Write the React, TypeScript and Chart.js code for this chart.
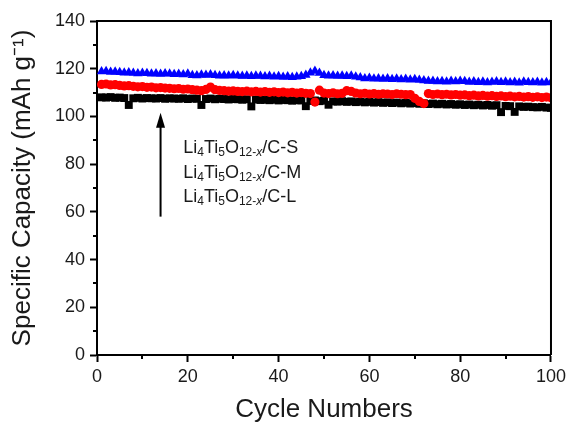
import React, { useEffect, useRef } from "react";
import { Chart, registerables } from "chart.js";
Chart.register(...registerables);

const FONT = "'Liberation Sans', Arial, Helvetica, sans-serif";

const cycles: number[] = Array.from({ length: 100 }, (_, i) => i + 1);

const capacityS = [
  118.8, 118.9, 118.6, 118.7, 118.5, 118.3, 118.4, 118.2, 118.0, 118.2,
  118.1, 117.9, 118.0, 117.8, 118.0, 117.9, 117.7, 117.8, 117.6, 117.9,
  117.3, 117.2, 117.5, 117.4, 117.6, 117.3, 117.1, 117.2, 117.0, 117.3,
  117.0, 116.9, 117.1, 116.8, 117.0, 116.9, 116.7, 116.9, 116.6, 116.8,
  116.5, 116.7, 116.4, 116.6, 116.8, 117.4, 118.3, 119.0, 118.2, 117.3,
  117.1, 117.2, 116.9, 117.0, 116.8, 117.0, 116.6, 116.3, 115.9, 116.1,
  115.8, 115.9, 115.7, 115.9, 115.6, 115.8, 115.5, 115.7, 115.4, 115.6,
  115.3, 115.1, 114.8, 114.9, 114.6, 114.7, 114.5, 114.8, 114.6, 114.9,
  114.7, 114.4, 114.6, 114.3, 114.5, 114.2, 114.4, 114.6, 114.3, 114.5,
  114.2, 114.4, 114.1, 114.5, 114.3, 114.2, 114.4, 114.1, 114.3, 114.2,
];

const capacityM = [
  113.4, 113.6, 113.2, 113.3, 113.0, 112.8, 112.9, 112.6, 112.4, 112.5,
  112.2, 112.3, 112.0, 112.1, 111.9, 111.8, 111.6, 111.7, 111.4, 111.5,
  111.2, 111.0, 110.8, 111.3, 112.3, 111.2, 110.9, 110.8, 110.6, 110.7,
  110.5, 110.4, 110.6, 110.3, 110.5, 110.2, 110.4, 110.1, 110.3, 110.0,
  110.2, 109.9, 110.1, 109.8, 110.0, 109.7, 109.6, 106.0, 111.0, 109.8,
  109.6, 109.9, 109.5, 109.7, 110.8, 110.5, 109.8, 109.5, 109.7, 109.4,
  109.6, 109.3, 109.5, 109.4, 109.2, 109.5, 109.3, 109.1, 109.2, 107.6,
  106.3, 105.4, 109.6, 109.2, 109.4, 109.1, 109.3, 109.0, 109.2, 108.9,
  109.0, 108.7, 108.9, 108.6, 108.8, 108.5, 108.7, 108.4, 108.6, 108.3,
  108.5, 108.2, 108.4, 108.1, 108.3, 108.0, 108.2, 107.9, 108.1, 107.8,
];

const capacityL = [
  108.0, 107.9, 108.1, 107.8, 107.9, 107.7, 104.8, 107.6, 107.8, 107.5,
  107.7, 107.6, 107.5, 107.7, 107.4, 107.6, 107.5, 107.4, 107.6, 107.3,
  107.5, 107.4, 104.8, 107.3, 107.5, 107.2, 107.4, 107.3, 107.1, 107.3,
  107.2, 107.0, 107.2, 104.2, 107.1, 106.9, 107.0, 106.8, 107.0, 106.7,
  106.9, 106.8, 106.6, 106.8, 106.7, 104.3, 106.5, 106.7, 106.4, 106.6,
  104.9, 106.3, 106.2, 106.4, 106.1, 106.3, 106.0, 106.2, 105.9, 106.1,
  105.8, 106.0, 105.7, 105.9, 105.6, 105.8, 105.5, 105.7, 105.4, 105.6,
  105.3, 105.5, 105.2, 105.4, 105.1, 105.3, 105.0, 105.2, 104.9, 105.1,
  104.8, 105.0, 104.7, 104.9, 104.6, 104.8, 104.5, 104.7, 101.8, 104.4,
  104.3, 101.9, 104.2, 104.0, 104.1, 103.9, 103.8, 104.0, 103.7, 103.6,
];

const xMajorTicks = [0, 20, 40, 60, 80, 100];
const xMinorTicks = [10, 30, 50, 70, 90];
const yMajorTicks = [0, 20, 40, 60, 80, 100, 120, 140];
const yMinorTicks = [10, 30, 50, 70, 90, 110, 130];

const sampleSuffixes = ["C-S", "C-M", "C-L"];
const labelYs = [84.6, 74.4, 64.0];
const labelX = 19;
const arrowX = 14;
const arrowFrom = 58;
const arrowTo = 101.5;

type Part = { t: string; sub?: boolean; it?: boolean };

function drawRich(ctx: CanvasRenderingContext2D, x: number, y: number, parts: Part[]) {
  let cx = x;
  for (const p of parts) {
    const size = p.sub ? 12 : 18;
    ctx.font = `${p.it ? "italic " : ""}${size}px ${FONT}`;
    ctx.fillText(p.t, cx, p.sub ? y + 3 : y);
    cx += ctx.measureText(p.t).width;
  }
}

const decorPlugin = {
  id: "decor",
  afterDatasetsDraw(chart: any) {
    const { ctx, chartArea: a, scales } = chart;
    const xs = scales.x;
    const ys = scales.y;
    ctx.save();
    ctx.strokeStyle = "#000";
    ctx.lineWidth = 2;
    ctx.beginPath();
    ctx.moveTo(a.left, a.top);
    ctx.lineTo(a.right, a.top);
    ctx.lineTo(a.right, a.bottom);
    ctx.stroke();

    ctx.beginPath();
    for (const v of xMinorTicks) {
      const px = Math.round(xs.getPixelForValue(v));
      ctx.moveTo(px, a.bottom);
      ctx.lineTo(px, a.bottom + 4);
    }
    for (const v of yMinorTicks) {
      const py = Math.round(ys.getPixelForValue(v));
      ctx.moveTo(a.left - 4, py);
      ctx.lineTo(a.left, py);
    }
    ctx.stroke();

    // arrow
    const ax = xs.getPixelForValue(arrowX);
    const y0 = ys.getPixelForValue(arrowFrom);
    const y1 = ys.getPixelForValue(arrowTo);
    ctx.fillStyle = "#000";
    ctx.beginPath();
    ctx.moveTo(ax, y0);
    ctx.lineTo(ax, y1 + 10);
    ctx.stroke();
    ctx.beginPath();
    ctx.moveTo(ax, y1);
    ctx.lineTo(ax - 4.5, y1 + 15);
    ctx.lineTo(ax + 4.5, y1 + 15);
    ctx.closePath();
    ctx.fill();

    // labels
    ctx.fillStyle = "#1a1a1a";
    ctx.textBaseline = "alphabetic";
    ctx.textAlign = "left";
    const lx = xs.getPixelForValue(labelX);
    sampleSuffixes.forEach((s, i) => {
      const ly = ys.getPixelForValue(labelYs[i]);
      drawRich(ctx, lx, ly, [
        { t: "Li" },
        { t: "4", sub: true },
        { t: "Ti" },
        { t: "5", sub: true },
        { t: "O" },
        { t: "12-", sub: true },
        { t: "x", sub: true, it: true },
        { t: "/" + s },
      ]);
    });
    ctx.restore();
  },
};

export default function App() {
  const ref = useRef<HTMLCanvasElement>(null);
  useEffect(() => {
    if (!ref.current) return;
    const mk = (vals: number[]) => cycles.map((c, i) => ({ x: c, y: vals[i] }));
    const chart = new Chart(ref.current, {
      type: "scatter",
      data: {
        datasets: [
          {
            label: "Li4Ti5O12-x/C-S",
            data: mk(capacityS),
            pointStyle: "triangle",
            pointRadius: 5.5,
            backgroundColor: "#0000ff",
            borderColor: "#0000ff",
            borderWidth: 0,
            showLine: false,
          },
          {
            label: "Li4Ti5O12-x/C-M",
            data: mk(capacityM),
            pointStyle: "circle",
            pointRadius: 4.6,
            backgroundColor: "#ff0000",
            borderColor: "#ff0000",
            borderWidth: 0,
            showLine: false,
          },
          {
            label: "Li4Ti5O12-x/C-L",
            data: mk(capacityL),
            pointStyle: "rect",
            pointRadius: 5.6,
            backgroundColor: "#000000",
            borderColor: "#000000",
            borderWidth: 0,
            showLine: false,
          },
        ],
      },
      options: {
        responsive: false,
        animation: false,
        devicePixelRatio: 1,
        layout: { padding: { top: 21, right: 18, left: 0, bottom: 0 } },
        plugins: { legend: { display: false }, tooltip: { enabled: false } },
        scales: {
          x: {
            type: "linear",
            min: 0,
            max: 100,
            afterFit: (s: any) => { s.height = 67; },
            afterBuildTicks: (s: any) => { s.ticks = xMajorTicks.map((v) => ({ value: v })); },
            ticks: { font: { family: FONT, size: 18 }, color: "#1a1a1a", padding: 4, maxRotation: 0 },
            grid: { drawOnChartArea: false, drawTicks: true, tickLength: 7, tickWidth: 2, tickColor: "#000" },
            border: { display: true, color: "#000", width: 2 },
            title: {
              display: true,
              text: "Cycle Numbers",
              color: "#1a1a1a",
              font: { family: FONT, size: 26, lineHeight: 0.9 },
              padding: { top: 0, bottom: 0 },
            },
          },
          y: {
            type: "linear",
            min: 0,
            max: 140,
            afterFit: (s: any) => { s.width = 97; },
            afterBuildTicks: (s: any) => { s.ticks = yMajorTicks.map((v) => ({ value: v })); },
            ticks: { font: { family: FONT, size: 18 }, color: "#1a1a1a", padding: 5 },
            grid: { drawOnChartArea: false, drawTicks: true, tickLength: 7, tickWidth: 2, tickColor: "#000" },
            border: { display: true, color: "#000", width: 2 },
            title: {
              display: true,
              text: "Specific Capacity (mAh g\u207B\u00B9)",
              color: "#1a1a1a",
              font: { family: FONT, size: 26, lineHeight: 1.2 },
              padding: { top: 7, bottom: 0 },
            },
          },
        },
      },
      plugins: [decorPlugin],
    });
    return () => chart.destroy();
  }, []);
  return (
    <div style={{ position: "fixed", left: 0, top: 0, width: 570, height: 422, background: "#fff" }}>
      <canvas ref={ref} width={570} height={422} />
    </div>
  );
}
